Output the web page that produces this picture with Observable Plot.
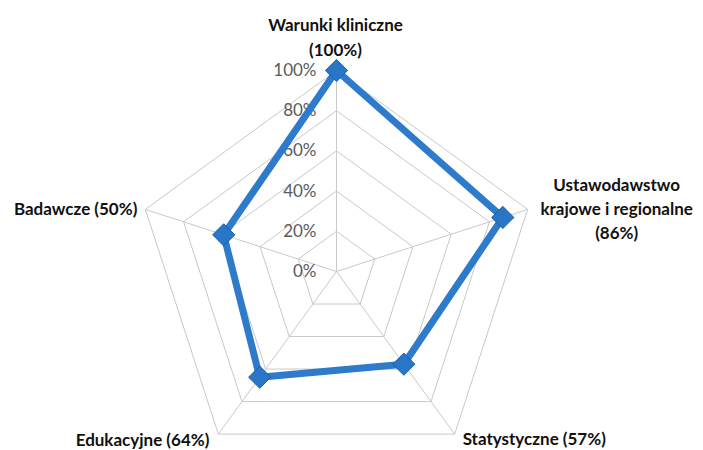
<!DOCTYPE html>
<html>
<head>
<meta charset="utf-8">
<script src="https://cdn.jsdelivr.net/npm/d3@7"></script>
<script src="https://cdn.jsdelivr.net/npm/@observablehq/plot@0.6"></script>
<style>
  html, body { margin: 0; padding: 0; background: #fff; }
  #chart svg { display: block; }
</style>
</head>
<body>
<div id="chart"></div>
<script>
// ---- data ----
const categories = ["Warunki kliniczne", "Ustawodawstwo krajowe i regionalne", "Statystyczne", "Edukacyjne", "Badawcze"];
const axisLabels = ["Warunki kliniczne\n(100%)", "Ustawodawstwo\nkrajowe i regionalne\n(86%)", "Statystyczne (57%)", "Edukacyjne (64%)", "Badawcze (50%)"];
const values = [100, 87, 57, 65, 59];
const tickValues = [0, 20, 40, 60, 80, 100];
const tickLabels = ["0%", "20%", "40%", "60%", "80%", "100%"];

// ---- geometry helpers ----
const W = 703, H = 450, CX = 336, CY = 271, R = 201;
const n = categories.length;
const ang = i => (i * 2 * Math.PI) / n;
const pt = (i, v) => ({x: (v / 100) * Math.sin(ang(i)), y: (v / 100) * Math.cos(ang(i))});

const rings = [];
for (const t of tickValues.slice(1)) {
  for (let i = 0; i <= n; i++) rings.push({ring: t, ...pt(i % n, t)});
}
const spokes = categories.map((c, i) => ({x1: 0, y1: 0, x2: pt(i, 100).x, y2: pt(i, 100).y}));
const series = [];
for (let i = 0; i <= n; i++) series.push({cat: categories[i % n], ...pt(i % n, values[i % n])});
const points = categories.map((c, i) => ({cat: c, ...pt(i, values[i])}));
const ticks = tickValues.map((t, k) => ({label: tickLabels[k], ...pt(0, t)}));
const vertex = i => [pt(i, 100)];

const labelFont = "Lato, 'Open Sans', sans-serif";
const labelStyle = {fontSize: 17, fontWeight: "bold", fill: "#111", fontFamily: labelFont};

const chart = Plot.plot({
  width: W,
  height: H,
  margin: 0,
  x: {domain: [-CX / R, (W - CX) / R], axis: null},
  y: {domain: [-(H - CY) / R, CY / R], axis: null},
  marks: [
    Plot.line(rings, {x: "x", y: "y", z: "ring", stroke: "#c9c9c9", strokeWidth: 1}),
    Plot.link(spokes, {x1: "x1", y1: "y1", x2: "x2", y2: "y2", stroke: "#c9c9c9", strokeWidth: 1}),
    Plot.text(ticks, {x: "x", y: "y", text: "label", textAnchor: "end", dx: -20, fontSize: 17,
      fill: "#5a5a5a", fontFamily: labelFont}),
    Plot.line(series, {x: "x", y: "y", stroke: "#2f7bcb", strokeWidth: 7, strokeLinejoin: "round"}),
    Plot.dot(points, {x: "x", y: "y", symbol: "diamond2", r: 10, fill: "#2a76c6", stroke: "#1c5fa8", strokeWidth: 1}),
    // category labels
    Plot.text(vertex(0), {x: "x", y: "y", text: [axisLabels[0]], textAnchor: "middle", lineAnchor: "middle",
      lineHeight: 1.47, dx: -1, dy: -35, ...labelStyle}),
    Plot.text(vertex(1), {x: "x", y: "y", text: [axisLabels[1]], textAnchor: "middle", lineAnchor: "middle",
      lineHeight: 1.4, dx: 89, dy: -2, ...labelStyle}),
    Plot.text(vertex(2), {x: "x", y: "y", text: [axisLabels[2]], textAnchor: "start", lineAnchor: "middle",
      dx: 8, dy: 5, ...labelStyle}),
    Plot.text(vertex(3), {x: "x", y: "y", text: [axisLabels[3]], textAnchor: "end", lineAnchor: "middle",
      dx: -9, dy: 6, ...labelStyle}),
    Plot.text(vertex(4), {x: "x", y: "y", text: [axisLabels[4]], textAnchor: "end", lineAnchor: "middle",
      dx: -8, dy: 0, ...labelStyle})
  ]
});
document.getElementById("chart").appendChild(chart);
</script>
</body>
</html>
